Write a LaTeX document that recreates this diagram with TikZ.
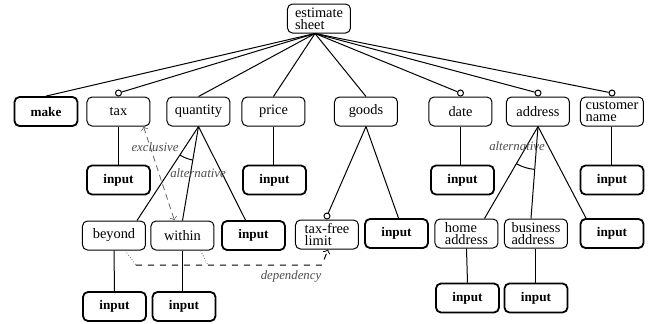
\documentclass[tikz,border=0pt]{standalone}
\usepackage{fontspec}
\setmainfont{Liberation Serif}
\usetikzlibrary{positioning}

\begin{document}
\begin{tikzpicture}[x=0.5pt, y=-0.5pt,
        cbox/.style={draw, rounded corners=2.5pt, line width=0.5pt, minimum width=31.5pt, minimum height=14.5pt,
                     inner sep=1.5pt, align=left, font=\fontsize{7.2}{6}\selectfont},
        inbox/.style={cbox, line width=0.9pt, font=\fontsize{6.6}{6}\selectfont\bfseries},
        opt/.style={circle, draw, fill=white, line width=0.5pt, inner sep=0pt, minimum size=3pt},
        lbl/.style={font=\fontsize{6.4}{7}\selectfont\itshape, text=black!70},
        link/.style={line width=0.5pt},
        excl/.style={densely dashed, line width=0.4pt, black!60, <->, >=to},
        depl/.style={densely dotted, line width=0.4pt, black!60},
        dep/.style={dashed, line width=0.5pt, ->, >=to}]

        \useasboundingbox (0,0) rectangle (650,323);

        % --- Radice ---
        \node[cbox] (root) at (319,18.5) {estimate\\sheet};
        \coordinate (rootb) at ([xshift=-2pt]root.south);

        % --- Primo livello ---
        \node[inbox] (make) at (46,111.5) {make};
        \node[cbox] (tax) at (118.5,111.5) {tax};
        \node[cbox] (quantity) at (198.5,111.5) {quantity};
        \node[cbox] (price) at (273.5,111.5) {price};
        \node[cbox] (goods) at (366,111.5) {goods};
        \node[cbox] (date) at (460.5,111.5) {date};
        \node[cbox] (address) at (538,111.5) {address};
        \node[cbox] (customer) at (612,111.5) {customer\\name};

        % pallini (opzionali)
        \node[opt, above=0pt of tax] (taxc) {};
        \node[opt, above=0pt of date] (datec) {};
        \node[opt, above=0pt of address] (addressc) {};
        \node[opt, above=0pt of customer] (customerc) {};

        % --- Secondo livello ---
        \node[inbox] (tinput) at (118.5,180) {input};
        \node[inbox] (pinput) at (274.5,180) {input};
        \node[inbox] (dinput) at (462.5,180) {input};
        \node[inbox] (cinput) at (612,180) {input};

        % --- Terzo livello ---
        \node[cbox] (beyond) at (114,235.5) {beyond};
        \node[cbox] (within) at (182.5,235.5) {within};
        \node[inbox] (qinput) at (253.5,235.5) {input};
        \node[cbox] (taxfree) at (327,234.5) {tax-free\\limit};
        \node[inbox] (ginput) at (396.5,233.5) {input};
        \node[cbox] (home) at (466.5,233.5) {home\\address};
        \node[cbox] (business) at (536,233.5) {business\\address};
        \node[inbox] (ainput) at (612,233.5) {input};
        \node[opt, above=0pt of taxfree] (taxfreec) {};

        % --- Quarto livello ---
        \node[inbox] (binput) at (114.5,306.5) {input};
        \node[inbox] (winput) at (184,306.5) {input};
        \node[inbox] (hinput) at (467.5,298) {input};
        \node[inbox] (businput) at (536,298) {input};

        % --- Collegamenti dalla radice ---
        \draw[link] (rootb) -- (make.north);
        \draw[link] (rootb) -- (taxc);
        \draw[link] (rootb) -- (quantity.north);
        \draw[link] (rootb) -- (price.north);
        \draw[link] (rootb) -- (goods.north);
        \draw[link] (rootb) -- (datec);
        \draw[link] (rootb) -- (addressc);
        \draw[link] (rootb) -- (customerc);

        % --- Linee verticali verso gli input ---
        \draw[link] (tax.south) -- (tinput.north);
        \draw[link] (price.south) -- (price.south |- pinput.north);
        \draw[link] (date.south) -- (date.south |- dinput.north);
        \draw[link] (customer.south) -- (cinput.north);
        \draw[link] (beyond.south) -- (binput.north);
        \draw[link] (within.south) -- (within.south |- winput.north);
        \draw[link] (home.south) -- (hinput.north);
        \draw[link] (business.south) -- (businput.north);

        % --- quantity: alternativa ---
        \draw[link] (quantity.south) -- ([xshift=11.5pt]beyond.north);
        \draw[link] (quantity.south) -- (within.north);
        \draw[link] (quantity.south) -- ([xshift=-4pt]qinput.north);
        \draw[link] ([shift={(237:17pt)}]quantity.south) arc[start angle=237, end angle=260, radius=17pt];
        \node[lbl] (qalt) at (198,173) {alternative};

        % --- goods ---
        \draw[link] (goods.south) -- (taxfreec);
        \draw[link] (goods.south) -- ([xshift=1pt]ginput.north);

        % --- address: alternativa ---
        \draw[link] (address.south) -- ([xshift=9pt]home.north);
        \draw[link] (address.south) -- ([xshift=-2.5pt]business.north);
        \draw[link] (address.south) -- ([xshift=-13pt]ainput.north);
        \draw[link] ([shift={(240:21.5pt)}]address.south) arc[start angle=240, end angle=265.5, radius=21.5pt];
        \node[lbl] (aalt) at (517,146) {alternative};

        % --- Vincolo esclusivo ---
        \draw[excl] ([xshift=-3.5pt]tax.south east) -- ([xshift=-4pt]within.north);
        \node[lbl] (exclusive) at (155,147) {exclusive};

        % --- Dipendenza ---
        \coordinate (dep1) at (136,265);
        \coordinate (dep2) at (208,265);
        \coordinate (dep3) at (322,265);
        \draw[depl] ([xshift=5.5pt]beyond.south) -- (dep1);
        \draw[depl] ([xshift=9pt]within.south) -- (dep2);
        \draw[dep] (dep1) -- (dep3) -- ([xshift=0.5pt]taxfree.south);
        \node[lbl] (dependency) at (291,276) {dependency};

    \end{tikzpicture}
\end{document}
